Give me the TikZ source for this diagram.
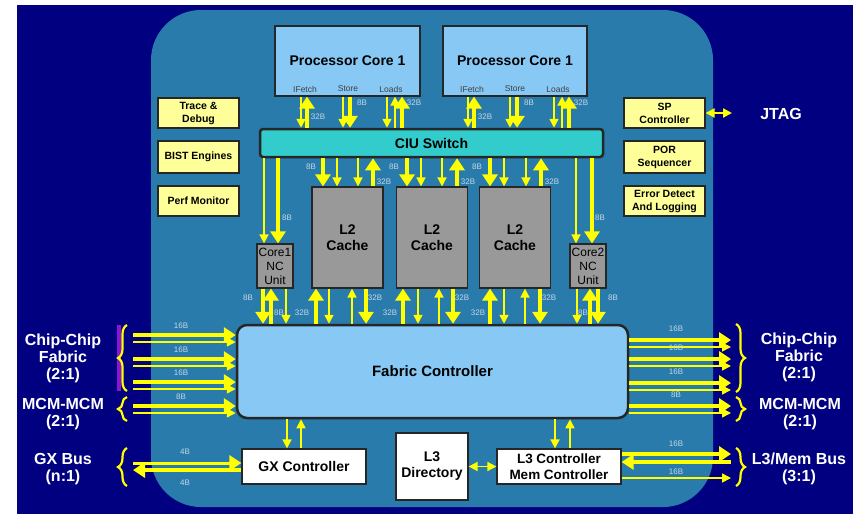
\documentclass[tikz,border=0pt]{standalone}
\usepackage{fontspec}
\setmainfont{Liberation Sans}
\usetikzlibrary{positioning, calc, arrows.meta, decorations.pathreplacing}
\definecolor{chipnavy}{RGB}{0,0,128}
\definecolor{diefill}{RGB}{40,123,170}
\definecolor{corefill}{RGB}{135,200,245}
\definecolor{ciufill}{RGB}{51,204,204}
\definecolor{cachefill}{RGB}{153,153,153}
\definecolor{boxyellow}{RGB}{255,255,153}
\definecolor{busyellow}{RGB}{255,255,0}
\definecolor{bitgrey}{RGB}{200,215,232}
\definecolor{bracepurple}{RGB}{140,20,210}
\tikzset{
  blk/.style={draw=black!85, line width=1.2pt, align=center, inner sep=0pt,
    font=\bfseries\fontsize{14}{16}\selectfont},
  cache/.style={blk, fill=cachefill, minimum width=71pt, minimum height=101pt},
  ncunit/.style={blk, fill=cachefill, minimum width=36pt, minimum height=44pt,
    font=\fontsize{12}{14}\selectfont},
  ctl/.style={blk, fill=white, minimum width=124pt, minimum height=35pt},
  ybox/.style={blk, fill=boxyellow, minimum width=81pt,
    font=\bfseries\fontsize{10.5}{13}\selectfont},
  bits/.style={inner sep=0pt, text=bitgrey, font=\fontsize{8}{9}\selectfont},
  port/.style={inner sep=0pt, text=black!75, font=\fontsize{8.5}{9}\selectfont},
  ext/.style={align=center, text=white, font=\bfseries\fontsize{16}{17}\selectfont},
  fat/.style={draw=busyellow, line width=4.5pt, >={Triangle[width=15pt,length=12pt]}},
  slim/.style={draw=busyellow, line width=1.6pt, >={Triangle[width=9pt,length=9pt]}},
  bus/.style={decorate, decoration={brace, amplitude=9pt}, draw=busyellow, line width=2.2pt}
}
\begin{document}
\begin{tikzpicture}[x=1pt, y=-1pt]
    \useasboundingbox (0,0) rectangle (859,514);
    %background and die
    \fill[white] (0,0) rectangle (859,514);
    \fill[chipnavy] (17,5) rectangle (853,514);
    \fill[diefill, rounded corners=50pt] (151,10) rectangle (713,507);

    %processor cores
    \node[blk, fill=corefill, minimum width=145pt, minimum height=70pt] (core1) at (347.5,61) {Processor Core 1};
    \node[blk, fill=corefill, minimum width=144pt, minimum height=70pt] (core2) at (515,61) {Processor Core 1};
    \foreach \k/\dx in {1/0, 2/167} {
        \node[port] (ifetch\k) at (305+\dx,89) {IFetch};
        \node[port] (store\k) at (348+\dx,89) {Store};
        \node[port] (loads\k) at (391+\dx,89) {Loads};
    }
    %ciu switch
    \node[blk, fill=ciufill, line width=2.5pt, rounded corners=3pt, minimum width=343pt, minimum height=28pt] (ciu) at (431.5,143) {CIU Switch};

    %side units
    \node[ybox, minimum height=30pt] (trace) at (198.5,113) {Trace \&\\Debug};
    \node[ybox, minimum height=32pt] (bist) at (198.5,157) {BIST Engines};
    \node[ybox, minimum height=30pt] (perf) at (198.5,201) {Perf Monitor};
    \node[ybox, minimum height=30pt] (sp) at (664.5,113) {SP\\Controller};
    \node[ybox, minimum height=32pt] (por) at (664.5,157) {POR\\Sequencer};
    \node[ybox, minimum height=30pt] (err) at (664.5,201) {Error Detect\\And Logging};

    %nc units and l2 caches
    \node[ncunit] (nc1) at (275,266) {Core1\\NC\\Unit};
    \node[ncunit] (nc2) at (588,266) {Core2\\NC\\Unit};
    \foreach \n/\cx in {A/347.5, B/432, C/515}
        \node[cache] (cache\n) at (\cx,237.5) {L2\\Cache};

    %fabric controller
    \node[blk, fill=corefill, line width=2.5pt, rounded corners=10pt, minimum width=391pt, minimum height=93pt,
        font=\bfseries\fontsize{15}{17}\selectfont] (fabric) at (432.5,371.5) {Fabric Controller};

    %bottom controllers
    \node[ctl] (gx) at (304,466.5) {GX Controller};
    \node[blk, fill=white, minimum width=72pt, minimum height=67pt] (l3dir) at (432,466.5) {L3\\Directory};
    \node[ctl, font=\bfseries\fontsize{13.5}{16.5}\selectfont] (l3ctl) at (559,466.5) {L3 Controller\\Mem Controller};

    %cores <-> ciu
    \foreach \k/\dx in {1/0, 2/167} {
        \draw[slim,->] (301+\dx,0 |- core\k.south) -- (301+\dx,0 |- ciu.north);
        \draw[fat,<-] (307+\dx,0 |- core\k.south) -- (307+\dx,0 |- ciu.north);
        \draw[slim,->] (343+\dx,0 |- core\k.south) -- (343+\dx,0 |- ciu.north);
        \draw[fat,->] (350+\dx,0 |- core\k.south) -- (350+\dx,0 |- ciu.north);
        \draw[slim,->] (387+\dx,0 |- core\k.south) -- (387+\dx,0 |- ciu.north);
        \draw[slim,<-] (395+\dx,0 |- core\k.south) -- (395+\dx,0 |- ciu.north);
        \draw[fat,<-] (402+\dx,0 |- core\k.south) -- (402+\dx,0 |- ciu.north);
        \node[bits] (wif\k) at (318+\dx,117) {32B};
        \node[bits] (wst\k) at (362+\dx,103) {8B};
        \node[bits] (wld\k) at (414+\dx,103) {32B};
    }
    %ciu -> nc units
    \draw[slim,->] (264,0 |- ciu.south) -- (264,0 |- nc1.north);
    \draw[fat,->] (278,0 |- ciu.south) -- (278,0 |- nc1.north);
    \draw[slim,->] (576,0 |- ciu.south) -- (576,0 |- nc2.north);
    \draw[fat,->] (592,0 |- ciu.south) -- (592,0 |- nc2.north);
    \node[bits] (wnc1) at (287,218) {8B};
    \node[bits] (wnc2) at (600,218) {8B};

    %ciu <-> l2 caches
    \foreach \n/\xa/\xb/\xc/\xd/\xl in {A/323/337/358/373/311, B/407/421/442/457/394, C/490/504/526/541/477} {
        \draw[fat,->] (\xa,0 |- ciu.south) -- (\xa,0 |- cache\n.north);
        \draw[slim,->] (\xb,0 |- ciu.south) -- (\xb,0 |- cache\n.north);
        \draw[slim,->] (\xc,0 |- ciu.south) -- (\xc,0 |- cache\n.north);
        \draw[fat,<-] (\xd,0 |- ciu.south) -- (\xd,0 |- cache\n.north);
        \node[bits] (wdn\n) at (\xl,167) {8B};
        \node[bits] (wup\n) at (\xd+11,182) {32B};
    }
    %l2 caches <-> fabric
    \foreach \n/\xa/\xb/\xc/\xd/\xl in {A/316/329/352/366/302, B/403/418/439/453/390, C/490/504/525/540/478} {
        \node[bits] (rup\n) at (\xl,313) {32B};
        \node[bits] (rdn\n) at (\xd+9,298) {32B};
        \draw[fat,<-] (\xa,0 |- cache\n.south) -- (\xa,0 |- fabric.north);
        \draw[slim,->] (\xb,0 |- cache\n.south) -- (\xb,0 |- fabric.north);
        \draw[slim,<-] (\xc,0 |- cache\n.south) -- (\xc,0 |- fabric.north);
        \draw[fat,->] (\xd,0 |- cache\n.south) -- (\xd,0 |- fabric.north);
    }
    %nc units <-> fabric
    \node[bits] (fnc1a) at (248,298) {8B};
    \node[bits] (fnc1b) at (279,313) {8B};
    \node[bits] (fnc2a) at (613,298) {8B};
    \node[bits] (fnc2b) at (583,313) {8B};
    \draw[fat,->] (263,0 |- nc1.south) -- (263,0 |- fabric.north);
    \draw[fat,<-] (271,0 |- nc1.south) -- (271,0 |- fabric.north);
    \draw[slim,->] (286,0 |- nc1.south) -- (286,0 |- fabric.north);
    \draw[slim,->] (577,0 |- nc2.south) -- (577,0 |- fabric.north);
    \draw[fat,<-] (590,0 |- nc2.south) -- (590,0 |- fabric.north);
    \draw[fat,->] (598,0 |- nc2.south) -- (598,0 |- fabric.north);

    %off-chip fabric links
    \foreach \y/\w/\m in {335/16B/a, 359/16B/b, 382/16B/c, 406/8B/d} {
        \draw[fat,->] (133,\y) -- (fabric.west |- 0,\y);
        \draw[slim,->] (133,\y+7) -- (fabric.west |- 0,\y+7);
        \node[bits] (lw\m) at (181,\y-9) {\w};
    }
    \foreach \y/\w/\m in {340/16B/a, 359/16B/b, 383/16B/c, 406/8B/d} {
        \draw[fat,->] (fabric.east |- 0,\y) -- (731,\y);
        \draw[slim,->] (fabric.east |- 0,\y+7) -- (731,\y+7);
        \node[bits] (rw\m) at (676,\y-11) {\w};
    }
    %controllers
    \draw[slim,->] (287,0 |- fabric.south) -- (287,0 |- gx.north);
    \draw[slim,<-] (301,0 |- fabric.south) -- (301,0 |- gx.north);
    \draw[slim,->] (555,0 |- fabric.south) -- (555,0 |- l3ctl.north);
    \draw[slim,<-] (570,0 |- fabric.south) -- (570,0 |- l3ctl.north);
    \draw[slim,<->] (l3dir.east) -- (l3ctl.west);
    %gx bus
    \draw[fat,line width=3pt,->] (133,463) -- (gx.west |- 0,463);
    \draw[fat,<-] (133,470) -- (gx.west |- 0,470);
    \node[bits] (gxa) at (185,452) {4B};
    \node[bits] (gxb) at (185,483) {4B};
    %l3/mem bus
    \draw[fat,->] (l3ctl.east |- 0,454) -- (731,454);
    \draw[fat,<-] (l3ctl.east |- 0,462) -- (731,462);
    \draw[slim,->] (l3ctl.east |- 0,478) -- (731,478);
    \node[bits] (mema) at (676,444) {16B};
    \node[bits] (memb) at (676,472) {16B};

    %jtag
    \node[ext] (jtag) at (781,114) {JTAG};
    \coordinate (jtagpin) at (732,113);
    \draw[slim,line width=2.5pt,<->] (sp.east) -- (jtagpin);

    %braces and bus names
    \fill[bracepurple] (117,325) rectangle (121,391);
    \draw[bus] (127,391) -- (127,325);
    \draw[bus] (127,421) -- (127,397);
    \draw[bus] (127,486) -- (127,448);
    \draw[bus] (736,324) -- (736,392);
    \draw[bus] (736,397) -- (736,421);
    \draw[bus] (736,448) -- (736,486);
    \node[ext] (ccl) at (63,358) {Chip-Chip\\Fabric\\(2:1)};
    \node[ext] (mcml) at (63,414) {MCM-MCM\\(2:1)};
    \node[ext] (gxl) at (63,469) {GX Bus\\(n:1)};
    \node[ext] (ccr) at (799,357) {Chip-Chip\\Fabric\\(2:1)};
    \node[ext] (mcmr) at (800,414) {MCM-MCM\\(2:1)};
    \node[ext] (memr) at (799,469) {L3/Mem Bus\\(3:1)};
\end{tikzpicture}
\end{document}
